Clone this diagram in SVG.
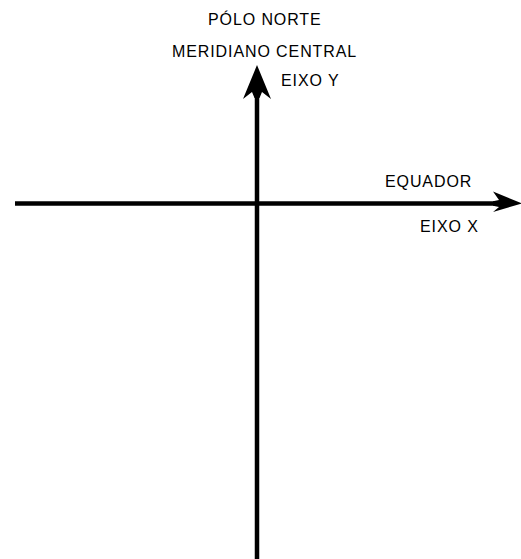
<svg xmlns="http://www.w3.org/2000/svg" width="521" height="559" viewBox="0 0 521 559">
<style>
.t{font-family:"Liberation Sans",Arial,sans-serif;font-size:16px;letter-spacing:0.9px;fill:#000}
.ax{stroke:#000;stroke-width:4.5;fill:none}
.ah{fill:#000;stroke:none}
</style>
<rect width="521" height="559" fill="#fff"/>
<g id="connectors">
<line class="ax" x1="257" y1="90" x2="257" y2="559"/>
<line class="ax" x1="15" y1="203.5" x2="505" y2="203.5"/>
<polygon class="ah" points="257,65 271,99 262,92 259.5,98 254.5,98 252,92 243,99"/>
<polygon class="ah" points="522,203.5 493,191.5 499,200 493,201.3 493,205.7 499,207 493,212"/>
</g>
<g id="polo-norte"><text class="t" x="208" y="25">PÓLO NORTE</text></g>
<g id="meridiano-central"><text class="t" x="172" y="57">MERIDIANO CENTRAL</text></g>
<g id="eixo-y"><text class="t" x="281" y="86">EIXO Y</text></g>
<g id="equador"><text class="t" x="385" y="187">EQUADOR</text></g>
<g id="eixo-x"><text class="t" x="420" y="232">EIXO X</text></g>
</svg>
